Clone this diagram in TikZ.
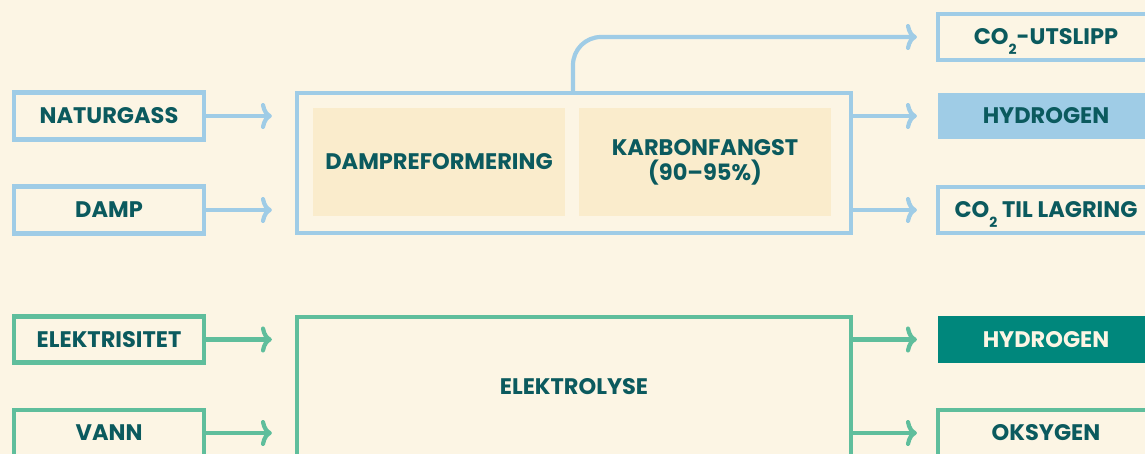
\documentclass[tikz,border=0pt]{standalone}
\usepackage{fontspec}
\setmainfont{Poppins}
\usetikzlibrary{arrows.meta}
\definecolor{bg}{HTML}{FCF5E4}
\definecolor{lblue}{HTML}{9FCCE6}
\definecolor{lgreen}{HTML}{5FBE9C}
\definecolor{ink}{HTML}{0B5A5E}
\definecolor{tealfill}{HTML}{00877C}
\definecolor{inner}{HTML}{FAECCC}
\newcommand{\cotwo}{CO\raisebox{-0.75ex}[0pt][0pt]{\fontsize{14}{14}\selectfont 2}}
\tikzset{
  lbl/.style={font=\fontsize{22.5}{25}\selectfont\bfseries, text=ink, align=center, inner sep=0pt},
  bbox/.style={lbl, draw=lblue, line width=4.2pt, minimum width=190pt, minimum height=47pt},
  gbox/.style={lbl, draw=lgreen, line width=4.2pt, minimum width=190pt, minimum height=46pt},
  obox/.style={lbl, draw=lblue, line width=4.2pt, minimum width=216pt, minimum height=46pt},
  bigbox/.style={line width=4.2pt, minimum width=554pt, minimum height=140pt, lbl},
  innerbox/.style={lbl, fill=inner, minimum width=252pt, minimum height=108pt},
  arr/.style={line width=4.2pt, -{Computer Modern Rightarrow[length=11pt, width=26pt, line width=4.2pt]}},
}
\begin{document}
\begin{tikzpicture}[x=1pt, y=-1pt]
\fill[bg] (0,0) rectangle (1145,454);
\useasboundingbox (0,0) rectangle (1145,454);
\clip (0,0) rectangle (1145,454);
% top process
\node[bbox] (ng) at (109,116) {NATURGASS};
\node[bbox] (damp) at (109,210) {DAMP};
\node[bigbox, draw=lblue] (smr) at (574,163) {};
\node[innerbox] (dref) at (439,162) {DAMPREFORMERING};
\node[innerbox] (karb) at (705,162) {KARBONFANGST\\(90--95\%)};
\node[obox] (co2u) at (1046,37) {\cotwo-UTSLIPP};
\node[obox, draw=none, fill=lblue, minimum height=46pt] (h2a) at (1046,116) {HYDROGEN};
\node[obox] (co2l) at (1046,210) {\cotwo{} TIL LAGRING};
\draw[arr, lblue, shorten >=23pt] (ng.east) -- (ng.east -| smr.west);
\draw[arr, lblue, shorten >=23pt] (damp.east) -- (damp.east -| smr.west);
\draw[arr, lblue, shorten >=19pt] (h2a.west -| smr.east) -- (h2a.west);
\draw[arr, lblue, shorten >=19pt] (co2l.west -| smr.east) -- (co2l.west);
\draw[arr, lblue, shorten >=19pt, rounded corners=28pt] ([xshift=-1pt]smr.north) |- (co2u.west);
% bottom process
\node[gbox] (el) at (109,339.5) {ELEKTRISITET};
\node[gbox] (vann) at (109,433) {VANN};
\node[bigbox, draw=lgreen] (elys) at (574,387) {ELEKTROLYSE};
\node[obox, draw=none, fill=tealfill, text=bg, minimum height=47pt] (h2b) at (1046,339.5) {HYDROGEN};
\node[obox, draw=lgreen] (oks) at (1046,433) {OKSYGEN};
\draw[arr, lgreen, shorten >=23pt] (el.east) -- (el.east -| elys.west);
\draw[arr, lgreen, shorten >=23pt] (vann.east) -- (vann.east -| elys.west);
\draw[arr, lgreen, shorten >=19pt] (h2b.west -| elys.east) -- (h2b.west);
\draw[arr, lgreen, shorten >=19pt] (oks.west -| elys.east) -- (oks.west);
\end{tikzpicture}
\end{document}
